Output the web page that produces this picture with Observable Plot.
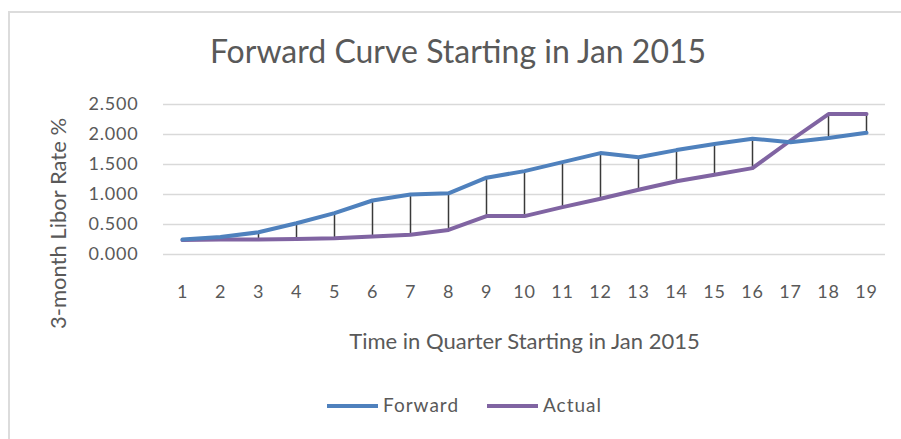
<!DOCTYPE html>
<html>
<head>
<meta charset="utf-8">
<script src="https://cdn.jsdelivr.net/npm/d3@7"></script>
<script src="https://cdn.jsdelivr.net/npm/@observablehq/plot@0.6"></script>
<style>
  body { margin: 0; background: #fff; }
  #wrap { position: relative; width: 901px; height: 439px; overflow: hidden; background: #fff; font-family: Lato, "Open Sans", sans-serif; color: #595959; }
  #frame { position: absolute; left: 8px; top: 11px; right: -4px; bottom: -4px; border-left: 2px solid #dcdcdc; border-top: 2px solid #dcdcdc; }
  #title { position: absolute; left: 0; width: 916px; top: 32px; text-align: center; font-size: 32px; line-height: 38px; white-space: nowrap; }
  #chart { position: absolute; left: 0; top: 0; }
  .leg { position: absolute; top: 394px; height: 22px; line-height: 22px; font-size: 19px; letter-spacing: 1px; white-space: nowrap; }
  .sw { position: absolute; height: 4px; top: 404px; }
</style>
</head>
<body>
<div id="wrap">
  <div id="frame"></div>
  <div id="chart"></div>
  <div id="title"></div>
  <div id="legend"></div>
</div>
<script>
const titleText = "Forward Curve Starting in Jan 2015";
const yLabel = "3-month Libor Rate %";
const xLabel = "Time in Quarter Starting in Jan 2015";
const quarters = [1, 2, 3, 4, 5, 6, 7, 8, 9, 10, 11, 12, 13, 14, 15, 16, 17, 18, 19];
const forward = [0.25, 0.29, 0.37, 0.52, 0.69, 0.90, 1.00, 1.02, 1.28, 1.39, 1.54, 1.69, 1.62, 1.74, 1.84, 1.93, 1.87, 1.94, 2.03];
const actual  = [0.24, 0.25, 0.25, 0.26, 0.27, 0.30, 0.33, 0.41, 0.64, 0.64, 0.79, 0.93, 1.08, 1.22, 1.33, 1.44, 1.90, 2.34, 2.34];
const yTicks = [0, 0.5, 1.0, 1.5, 2.0, 2.5];
const seriesNames = ["Forward", "Actual"];
const seriesColors = ["#4f81bd", "#8064a2"];

const rows = quarters.map((q, i) => ({q, forward: forward[i], actual: actual[i]}));

document.getElementById("title").textContent = titleText;

const plot = Plot.plot({
  width: 901,
  height: 439,
  marginTop: 104,
  marginBottom: 185,
  marginLeft: 163,
  marginRight: 16,
  style: {fontFamily: "Lato, 'Open Sans', sans-serif", fontSize: "18px", color: "#595959", background: "transparent", overflow: "visible"},
  x: {type: "point", domain: quarters, padding: 0.5, axis: null},
  y: {domain: [0, 2.5], axis: null},
  marks: [
    Plot.ruleY(yTicks, {stroke: "#d9d9d9", strokeWidth: 1.5}),
    Plot.axisY(yTicks, {tickSize: 0, tickPadding: 25, tickFormat: d3.format(".3f"), label: null, fontSize: 18}),
    Plot.axisX(quarters, {tickSize: 0, tickPadding: 31, label: null, fontSize: 18}),
    Plot.text([xLabel], {frameAnchor: "bottom", dy: 87, fontSize: 22, textAnchor: "middle", lineAnchor: "middle", ariaLabel: "xlabel"}),
    Plot.text([yLabel], {frameAnchor: "left", dx: -105, dy: 44, rotate: -90, fontSize: 22, textAnchor: "middle", lineAnchor: "middle", ariaLabel: "ylabel"}),
    Plot.ruleX(rows, {x: "q", y1: "forward", y2: "actual", stroke: "#3a3a3a", strokeWidth: 1.5}),
    Plot.line(rows, {x: "q", y: "actual", stroke: seriesColors[1], strokeWidth: 4, strokeLinejoin: "round", strokeLinecap: "round"}),
    Plot.line(rows, {x: "q", y: "forward", stroke: seriesColors[0], strokeWidth: 4, strokeLinejoin: "round", strokeLinecap: "round"})
  ]
});
document.getElementById("chart").appendChild(plot);

const svg = d3.select(plot);
svg.selectAll("[aria-label='y-axis tick label'] text, [aria-label='x-axis tick label'] text").style("letter-spacing", "0.8px");
svg.selectAll("[aria-label='xlabel'] text").style("letter-spacing", "1.6px");
svg.selectAll("[aria-label='ylabel'] text").style("letter-spacing", "1.4px");

// legend
const legend = document.getElementById("legend");
const legPos = [{sw: 327, tx: 383}, {sw: 487, tx: 543}];
seriesNames.forEach((name, i) => {
  const sw = document.createElement("div");
  sw.className = "sw";
  sw.style.left = legPos[i].sw + "px";
  sw.style.width = "51px";
  sw.style.background = seriesColors[i];
  legend.appendChild(sw);
  const t = document.createElement("div");
  t.className = "leg";
  t.style.left = legPos[i].tx + "px";
  t.textContent = name;
  legend.appendChild(t);
});
</script>
</body>
</html>
